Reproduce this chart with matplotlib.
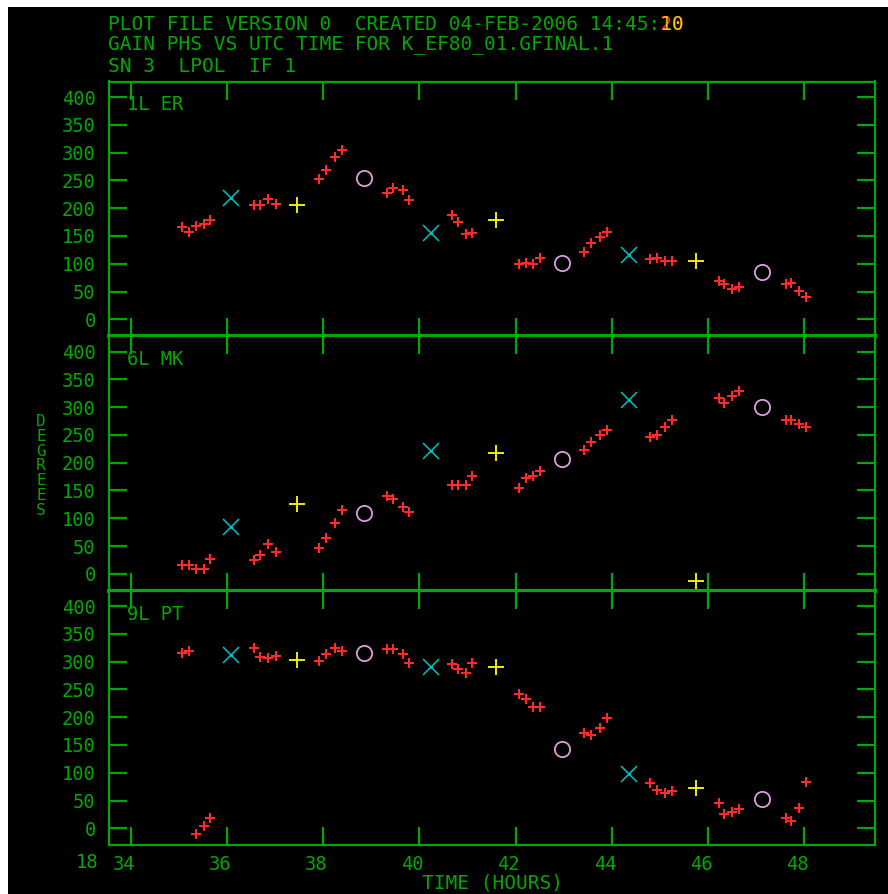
import numpy as np
import matplotlib
matplotlib.use("Agg")
import matplotlib.pyplot as plt
from matplotlib.patches import Rectangle
from matplotlib.transforms import ScaledTranslation

plt.rcParams.update({
    "font.family": "monospace",
    "font.monospace": ["DejaVu Sans Mono"],
})

GREEN = "#00a800"
RED = "#ff2a2a"
CYAN = "#00c4c4"
YELLOW = "#ffff00"
PLUM = "#dc9ee0"

W, H, DPI = 888, 894, 100

# ---- solution times (hours) ----
t_src = [35.07, 35.21, 35.36, 35.52, 35.64,
         36.57, 36.68, 36.85, 37.01,
         37.92, 38.06, 38.25, 38.39,
         39.33, 39.46, 39.65, 39.79,
         40.67, 40.81, 40.96, 41.10,
         42.07, 42.22, 42.36, 42.50,
         43.43, 43.57, 43.75, 43.90,
         44.80, 44.93, 45.11, 45.25,
         46.22, 46.34, 46.50, 46.65,
         47.62, 47.73, 47.89, 48.04]
t_cal_x = [36.09, 40.24, 44.35]
t_cal_plus = [37.46, 41.59, 45.74]
t_cal_o = [38.85, 42.97, 47.12]

# ---- gain phases (degrees) per antenna ----
labels = ["1L ER", "6L MK", "9L PT"]

ph_src = [
    [167, 158, 168, 172, 178, 206, 206, 216, 208, 253, 268, 293, 304,
     227, 236, 233, 215, 187, 175, 153, 156, 99, 102, 99, 111,
     122, 137, 149, 158, 108, 110, 105, 105, 69, 63, 55, 58,
     63, 66, 51, 40],
    [16, 16, 9, 9, 27, 24, 33, 53, 40, 46, 64, 91, 115,
     140, 135, 121, 112, 159, 159, 159, 176, 154, 172, 176, 185,
     222, 237, 249, 258, 246, 249, 264, 276, 317, 308, 320, 329,
     276, 276, 270, 265],
    [316, 320, -11, 4, 19, 324, 309, 306, 310, 301, 313, 325, 320,
     323, 323, 313, 297, 295, 286, 279, 297, 241, 232, 218, 219,
     171, 168, 180, 199, 81, 69, 64, 67, 45, 25, 30, 34,
     19, 13, 36, 84],
]
ph_cal_x = [[219, 155, 116], [85, 221, 312], [312, 291, 97]]
ph_cal_plus = [[205, 178, 105], [126, 218, -13], [303, 291, 72]]
ph_cal_o = [[254, 102, 85], [109, 206, 300], [315, 142, 52]]

x_ticks = [34, 36, 38, 40, 42, 44, 46, 48]
y_ticks = [0, 50, 100, 150, 200, 250, 300, 350, 400]


def fx(px):
    return px / W


def fy(py):
    return 1 - py / H


fig = plt.figure(figsize=(W / DPI, H / DPI), dpi=DPI, facecolor="white")
fig.add_artist(Rectangle((fx(8), 0), 1 - fx(8), fy(7), transform=fig.transFigure,
                         facecolor="black", edgecolor="none", zorder=0))

left, right = 108.7, 875.0
tops = [81.5, 336.0, 590.5]
ph = 254.5

axes = []
for i in range(3):
    ax = fig.add_axes([fx(left), fy(tops[i] + ph), fx(right) - fx(left), ph / H])
    ax.set_facecolor("black")
    ax.set_xlim(33.54, 49.47)
    ax.set_ylim(-30, 428)
    for s in ax.spines.values():
        s.set_color(GREEN)
        s.set_linewidth(1.6)
    if i < 2:
        ax.spines["bottom"].set_linewidth(3.0)

    ax.set_xticks(x_ticks)
    ax.set_yticks(y_ticks)
    ax.tick_params(axis="both", direction="in", length=13, width=1.6,
                   color=GREEN, labelcolor=GREEN, labelsize=13.5)
    ax.tick_params(axis="x", top=True, bottom=True, labelbottom=(i == 2), pad=7)
    ax.tick_params(axis="y", left=True, right=True, pad=9.5)
    ax.set_yticklabels([str(v) for v in y_ticks])
    if i == 2:
        ax.set_xticklabels([str(v) for v in x_ticks])
        for lab in ax.get_xticklabels():
            lab.set_transform(lab.get_transform()
                              + ScaledTranslation(-7 / DPI, 0, fig.dpi_scale_trans))

    ax.plot(t_src, ph_src[i], ls="none", marker="+", ms=7.5, mew=1.5,
            color=RED, clip_on=False)
    ax.plot(t_cal_x, ph_cal_x[i], ls="none", marker="x", ms=12, mew=1.1,
            color=CYAN, clip_on=False)
    ax.plot(t_cal_x, ph_cal_x[i], ls="none", marker="o", ms=2.2, mew=0,
            color=CYAN, clip_on=False)
    ax.plot(t_cal_plus, ph_cal_plus[i], ls="none", marker="+", ms=12, mew=1.3,
            color=YELLOW, clip_on=False)
    ax.plot(t_cal_o, ph_cal_o[i], ls="none", marker="o", ms=11, mew=1.3,
            mfc="none", mec=PLUM, clip_on=False)

    ax.text(fx(127 - left) / fx(right - left), 1 - 23.5 / ph, labels[i],
            transform=ax.transAxes, color=GREEN, fontsize=13.5,
            ha="left", va="center")
    axes.append(ax)

# header lines; the seconds of the timestamp are overprinted
HS = 14.0
head1 = "PLOT FILE VERSION 0  CREATED 04-FEB-2006 14:45:"
fig.text(fx(108), fy(25), head1, color=GREEN, fontsize=HS, ha="left", va="center")
fig.text(fx(108), fy(25), " " * len(head1) + "20", color=RED, fontsize=HS,
         ha="left", va="center")
fig.text(fx(108), fy(25), " " * len(head1) + "10", color=YELLOW, fontsize=HS,
         ha="left", va="center", alpha=0.75)
fig.text(fx(108), fy(45), "GAIN PHS VS UTC TIME FOR K_EF80_01.GFINAL.1",
         color=GREEN, fontsize=HS, ha="left", va="center")
fig.text(fx(108), fy(66), "SN 3  LPOL  IF 1",
         color=GREEN, fontsize=HS, ha="left", va="center")

fig.text(fx(87), fy(863), "18", color=GREEN, fontsize=13.5, ha="center", va="center")
fig.text(fx(492), fy(883), "TIME (HOURS)", color=GREEN, fontsize=14,
         ha="center", va="center")
fig.text(fx(41), fy(466), "\n".join("DEGREES"), color=GREEN, fontsize=11.5,
         ha="center", va="center", linespacing=0.98)

fig.savefig("out.png", dpi=DPI, facecolor="white")
